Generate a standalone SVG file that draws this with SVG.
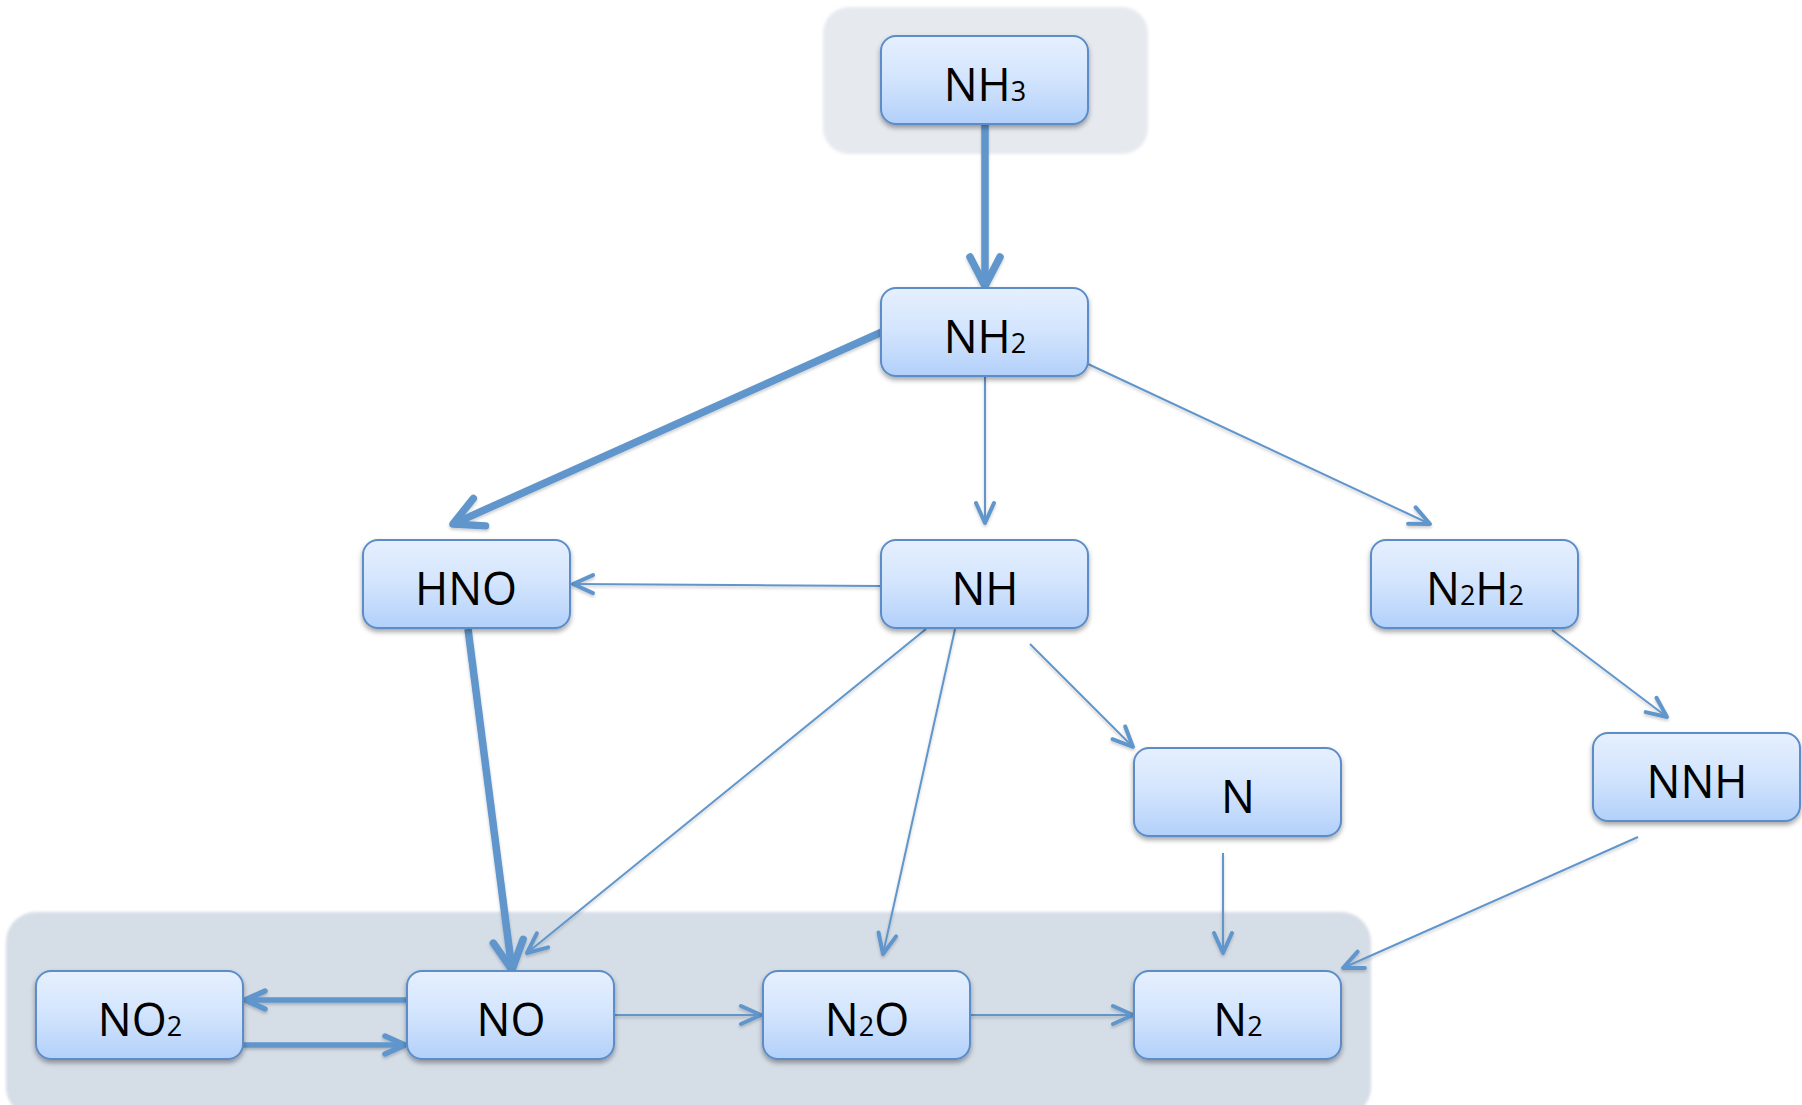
<svg xmlns="http://www.w3.org/2000/svg" width="1802" height="1105" viewBox="0 0 1802 1105">
  <style>
    .bg { stroke: none; }
    .node rect { fill: url(#nodeGrad); stroke: #5B8DC8; stroke-width: 2; }
    .node text { font-family: "Open Sans", Lato, "Liberation Sans", sans-serif; font-size: 45px; fill: #000; text-anchor: middle; }
    .sub { font-size: 27px; }
    .conn { fill: none; stroke: #6096CB; stroke-linecap: butt; }
    .thin { stroke-width: 2; }
    .med { stroke-width: 5.5; }
    .thick { stroke-width: 7.5; }
    .head { fill: none; stroke: #6096CB; stroke-linecap: round; stroke-linejoin: round; }
  </style>
  <defs>
    <linearGradient id="nodeGrad" x1="0" y1="0" x2="0" y2="1">
      <stop offset="0" stop-color="#E6F0FE"/>
      <stop offset="0.5" stop-color="#D2E4FD"/>
      <stop offset="1" stop-color="#B2D0FA"/>
    </linearGradient>
    <filter id="shadow" x="-10%" y="-10%" width="120%" height="140%">
      <feDropShadow dx="0" dy="3" stdDeviation="2.5" flood-color="#000" flood-opacity="0.35"/>
    </filter>
    <filter id="lshadow" x="-10%" y="-10%" width="120%" height="120%">
      <feDropShadow dx="0" dy="2" stdDeviation="1.5" flood-color="#000" flood-opacity="0.2"/>
    </filter>
    <filter id="soft" x="-5%" y="-5%" width="110%" height="110%">
      <feGaussianBlur stdDeviation="1.5"/>
    </filter>
    <marker id="aThin" markerUnits="userSpaceOnUse" orient="auto" refX="0" refY="0" markerWidth="40" markerHeight="40" viewBox="-30 -20 40 40" overflow="visible">
      <path class="head" d="M-20,-9 L0,0 L-20,9" stroke-width="4"/>
    </marker>
    <marker id="aMed" markerUnits="userSpaceOnUse" orient="auto" refX="-2" refY="0" markerWidth="40" markerHeight="40" viewBox="-30 -20 40 40" overflow="visible">
      <path class="head" d="M-20,-9 L0,0 L-20,9" stroke-width="5.5"/>
    </marker>
    <marker id="aThick" markerUnits="userSpaceOnUse" orient="auto" refX="-3" refY="0" markerWidth="60" markerHeight="60" viewBox="-40 -30 60 60" overflow="visible">
      <path class="head" d="M-29,-15 L0,0 L-29,15" stroke-width="7.5"/>
    </marker>
  </defs>

  <rect width="1802" height="1105" fill="#FFFFFF"/>

  <g id="groups">
    <rect id="group-top" class="bg" x="823" y="7" width="325" height="147" rx="26" fill="#E6EAEF" filter="url(#soft)"/>
    <rect id="group-bottom" class="bg" x="6" y="912" width="1365" height="205" rx="30" fill="#D5DDE7" filter="url(#soft)"/>
  </g>

  <g id="connectors" filter="url(#lshadow)">
    <line class="conn thick" x1="985" y1="124" x2="985" y2="283" marker-end="url(#aThick)"/>
    <line class="conn thick" x1="882" y1="332" x2="455.7" y2="522.8" marker-end="url(#aThick)"/>
    <line class="conn thin" x1="985" y1="377" x2="985" y2="523" marker-end="url(#aThin)"/>
    <line class="conn thin" x1="1088" y1="364" x2="1430" y2="524" marker-end="url(#aThin)"/>
    <line class="conn thin" x1="881" y1="586" x2="573" y2="584" marker-end="url(#aThin)"/>
    <line class="conn thick" x1="468" y1="629" x2="511.6" y2="967" marker-end="url(#aThick)"/>
    <line class="conn thin" x1="926" y1="629" x2="527" y2="953" marker-end="url(#aThin)"/>
    <line class="conn thin" x1="955" y1="629" x2="883" y2="954" marker-end="url(#aThin)"/>
    <line class="conn thin" x1="1030" y1="644" x2="1133" y2="747" marker-end="url(#aThin)"/>
    <line class="conn thin" x1="1552" y1="630" x2="1667" y2="717" marker-end="url(#aThin)"/>
    <line class="conn thin" x1="1223" y1="853" x2="1223" y2="953" marker-end="url(#aThin)"/>
    <line class="conn thin" x1="1638" y1="837" x2="1343" y2="968" marker-end="url(#aThin)"/>
    <line class="conn med" x1="407" y1="1000" x2="247" y2="1000" marker-end="url(#aMed)"/>
    <line class="conn med" x1="243" y1="1045" x2="403" y2="1045" marker-end="url(#aMed)"/>
    <line class="conn thin" x1="615" y1="1015" x2="761" y2="1015" marker-end="url(#aThin)"/>
    <line class="conn thin" x1="971" y1="1015" x2="1133" y2="1015" marker-end="url(#aThin)"/>
  </g>

  <g id="node-NH3" class="node">
    <rect x="881" y="36" width="207" height="88" rx="15" filter="url(#shadow)"/>
    <text x="985" y="101">NH<tspan class="sub">3</tspan></text>
  </g>
  <g id="node-NH2" class="node">
    <rect x="881" y="288" width="207" height="88" rx="15" filter="url(#shadow)"/>
    <text x="985" y="353">NH<tspan class="sub">2</tspan></text>
  </g>
  <g id="node-HNO" class="node">
    <rect x="363" y="540" width="207" height="88" rx="15" filter="url(#shadow)"/>
    <text x="466" y="605">HNO</text>
  </g>
  <g id="node-NH" class="node">
    <rect x="881" y="540" width="207" height="88" rx="15" filter="url(#shadow)"/>
    <text x="985" y="605">NH</text>
  </g>
  <g id="node-N2H2" class="node">
    <rect x="1371" y="540" width="207" height="88" rx="15" filter="url(#shadow)"/>
    <text x="1475" y="605">N<tspan class="sub">2</tspan>H<tspan class="sub">2</tspan></text>
  </g>
  <g id="node-N" class="node">
    <rect x="1134" y="748" width="207" height="88" rx="15" filter="url(#shadow)"/>
    <text x="1238" y="813">N</text>
  </g>
  <g id="node-NNH" class="node">
    <rect x="1593" y="733" width="207" height="88" rx="15" filter="url(#shadow)"/>
    <text x="1697" y="798">NNH</text>
  </g>
  <g id="node-NO2" class="node">
    <rect x="36" y="971" width="207" height="88" rx="15" filter="url(#shadow)"/>
    <text x="140" y="1036">NO<tspan class="sub">2</tspan></text>
  </g>
  <g id="node-NO" class="node">
    <rect x="407" y="971" width="207" height="88" rx="15" filter="url(#shadow)"/>
    <text x="511" y="1036">NO</text>
  </g>
  <g id="node-N2O" class="node">
    <rect x="763" y="971" width="207" height="88" rx="15" filter="url(#shadow)"/>
    <text x="867" y="1036">N<tspan class="sub">2</tspan>O</text>
  </g>
  <g id="node-N2" class="node">
    <rect x="1134" y="971" width="207" height="88" rx="15" filter="url(#shadow)"/>
    <text x="1238" y="1036">N<tspan class="sub">2</tspan></text>
  </g>
</svg>
